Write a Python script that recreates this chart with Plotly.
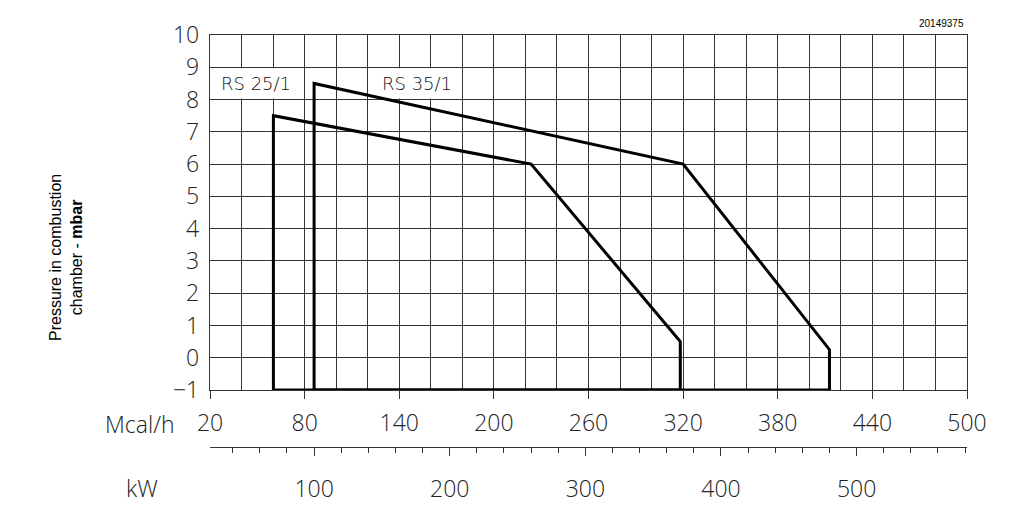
import plotly.graph_objects as go

# ---- data ----
MCAL_PER_KW = 0.86

mcal_ticks = [20, 80, 140, 200, 260, 320, 380, 440, 500]
kw_ticks = [100, 200, 300, 400, 500]
y_ticks = list(range(-1, 11))

# firing ranges (x in Mcal/h, y in mbar)
rs25_x = [60.2, 60.2, 223.6, 318.2, 318.2, 60.2]
rs25_y = [-1.0, 7.5, 6.0, 0.5, -1.0, -1.0]
rs35_x = [86.0, 86.0, 320.0, 412.8, 412.8, 86.0]
rs35_y = [-1.0, 8.5, 6.0, 0.25, -1.0, -1.0]

label_text = ["RS 25/1", "RS 35/1"]
label_x = [49, 151]
label_y = [8.5, 8.5]
label_cell_x0 = [20, 120]
label_cell_x1 = [80, 180]

# ---- styling ----
GRID = "#333333"
TXT = "#222222"
NUMFONT = dict(family="Open Sans", size=23, color=TXT, weight=300)

fig = go.Figure()
for xs, ys in [(rs25_x, rs25_y), (rs35_x, rs35_y)]:
    fig.add_trace(go.Scatter(x=xs, y=ys, mode="lines",
                             line=dict(color="black", width=3),
                             showlegend=False, hoverinfo="skip"))
# empty trace to attach the kW axis
fig.add_trace(go.Scatter(x=[None], y=[None], xaxis="x2", yaxis="y",
                         showlegend=False, hoverinfo="skip"))

# white label cells hiding the grid behind the series names
for x0, x1 in zip(label_cell_x0, label_cell_x1):
    fig.add_shape(type="rect", xref="x", yref="y",
                  x0=x0 + 0.6, x1=x1 - 0.6, y0=8.03, y1=8.97,
                  fillcolor="white", line=dict(width=0), layer="between")
for t, x, y in zip(label_text, label_x, label_y):
    fig.add_annotation(x=x, y=y, xref="x", yref="y", text=t, showarrow=False,
                       xanchor="center", yanchor="middle",
                       font=dict(family="DejaVu Sans", size=18, color="#111111", weight=200))

fig.update_layout(
    width=1024, height=508,
    margin=dict(l=210, r=57, t=35, b=0),
    paper_bgcolor="white", plot_bgcolor="white",
    xaxis=dict(range=[20, 500], tickvals=mcal_ticks, ticktext=[str(v) for v in mcal_ticks],
               ticks="outside", ticklen=8, tickwidth=1.2, tickcolor=GRID,
               showgrid=True, gridcolor=GRID, gridwidth=1.2,
               minor=dict(dtick=20, tick0=20, showgrid=True, gridcolor=GRID, gridwidth=1.2, ticks=""),
               showline=True, mirror=True, linecolor=GRID, linewidth=1.4,
               zeroline=False, tickfont=NUMFONT, anchor="y", automargin=False,
               ticklabelstandoff=4),
    xaxis2=dict(overlaying="x", anchor="free", position=0.1296, side="bottom",
                range=[20 / MCAL_PER_KW, 500 / MCAL_PER_KW],
                tickvals=kw_ticks, ticks="outside", ticklen=8, tickwidth=1.2, tickcolor=GRID,
                minor=dict(dtick=20, tick0=0, ticks="outside", ticklen=5, tickwidth=1.2,
                           tickcolor=GRID, showgrid=False),
                showline=True, linecolor=GRID, linewidth=1.4, showgrid=False,
                zeroline=False, tickfont=NUMFONT, automargin=False,
                ticklabelstandoff=14),
    yaxis=dict(range=[-1, 10], domain=[0.2495, 1], tickvals=y_ticks,
               showgrid=True, gridcolor=GRID, gridwidth=1.2,
               showline=True, mirror=True, linecolor=GRID, linewidth=1.4,
               zeroline=False, ticks="", tickfont=NUMFONT, automargin=False,
               ticklabelstandoff=5),
)

# pixel -> paper conversion for free-standing texts
H_PLOT = 508 - 35 - 0
W_PLOT = 1024 - 210 - 57
def px_to_paper(px, py):
    return (px - 210) / W_PLOT, (508 - py) / H_PLOT

for txt, (px, py) in [("Mcal/h", (140, 424)), ("kW", (142, 488))]:
    ax, ay = px_to_paper(px, py)
    fig.add_annotation(x=ax, y=ay, xref="paper", yref="paper", text=txt,
                       xanchor="center", yanchor="middle",
                       showarrow=False, font=NUMFONT)

ax, ay = px_to_paper(66, 258)
fig.add_annotation(x=ax, y=ay, xref="paper", yref="paper",
                   text="Pressure in combustion<br>chamber - <b>mbar</b>",
                   textangle=-90, showarrow=False, xanchor="center", yanchor="middle",
                   font=dict(family="Liberation Sans", size=16, color="black"))
ax, ay = px_to_paper(941, 24)
fig.add_annotation(x=ax, y=ay, xref="paper", yref="paper", text="20149375",
                   showarrow=False, xanchor="center", yanchor="middle",
                   font=dict(family="Liberation Sans", size=10, color="black"))

fig.write_html("out.html")
